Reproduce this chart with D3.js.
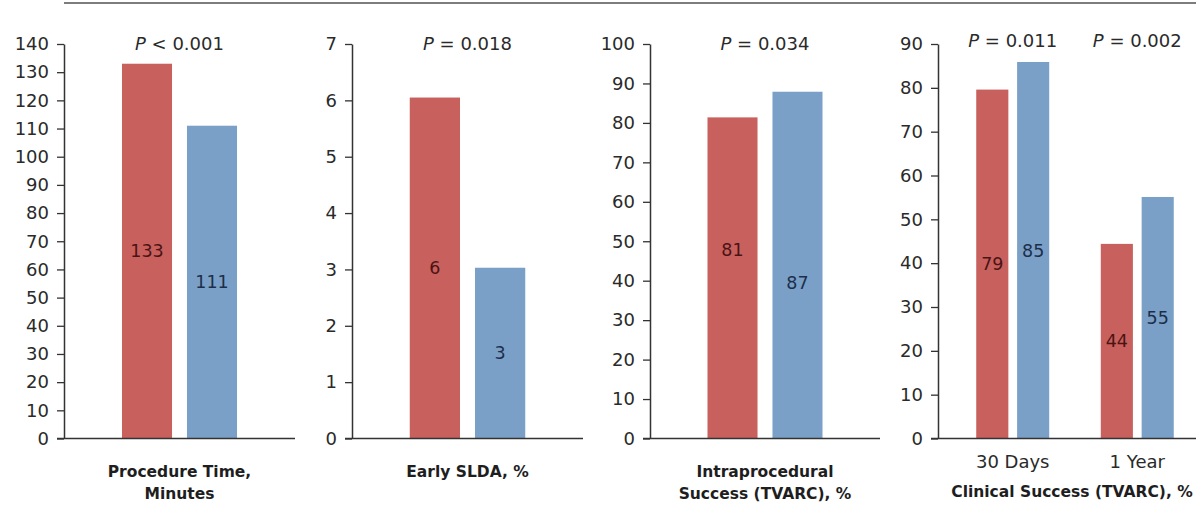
<!DOCTYPE html>
<html>
<head>
<meta charset="utf-8">
<script src="https://cdn.jsdelivr.net/npm/d3@7"></script>
<style>
  html, body { margin: 0; padding: 0; background: #fff; }
  svg { display: block; }
  text { font-family: "DejaVu Sans", sans-serif; fill: #2a2a2a; }
</style>
</head>
<body>
<svg id="chart" width="1196" height="506"></svg>
<script>
// ---------------- data ----------------
const seriesNames = ["Group A", "Group B"];

const procTimeCategories = ["Procedure"];
const procTimeValues = [[133, 111]];
const procTimeLabels = [["133", "111"]];
const procTimeP = ["< 0.001"];
const procTimeTicks = [0,10,20,30,40,50,60,70,80,90,100,110,120,130,140];
const procTimeTitle = ["Procedure Time,", "Minutes"];

const sldaCategories = ["SLDA"];
const sldaValues = [[6.05, 3.03]];
const sldaLabels = [["6", "3"]];
const sldaP = ["= 0.018"];
const sldaTicks = [0,1,2,3,4,5,6,7];
const sldaTitle = ["Early SLDA, %"];

const intraCategories = ["Intra"];
const intraValues = [[81.4, 87.9]];
const intraLabels = [["81", "87"]];
const intraP = ["= 0.034"];
const intraTicks = [0,10,20,30,40,50,60,70,80,90,100];
const intraTitle = ["Intraprocedural", "Success (TVARC), %"];

const clinicalCategories = ["30 Days", "1 Year"];
const clinicalValues = [[79.6, 85.9], [44.4, 55.1]];
const clinicalLabels = [["79", "85"], ["44", "55"]];
const clinicalP = ["= 0.011", "= 0.002"];
const clinicalTicks = [0,10,20,30,40,50,60,70,80,90];
const clinicalTitle = ["Clinical Success (TVARC), %"];

// ---------------- layout / style ----------------
const colors = ["#C8605D", "#7BA0C8"];
const labelColors = ["#4a1414", "#1c2f4a"];
const yTop = 44, yBottom = 438.5;

// labelAt: null = value label at the bar's middle; otherwise data-unit anchors
// (the third panel's labels sit lower than the bar middles).
const panels = [
  { cats: procTimeCategories, vals: procTimeValues, labels: procTimeLabels, p: procTimeP, ticks: procTimeTicks, title: procTimeTitle,
    x0: 64, x1: 295, po: 0.504, pi: 0, innerPad: 0.23, pY: 50, showCats: false, labelAt: null },
  { cats: sldaCategories, vals: sldaValues, labels: sldaLabels, p: sldaP, ticks: sldaTicks, title: sldaTitle,
    x0: 352, x1: 583, po: 0.5, pi: 0, innerPad: 0.23, pY: 50, showCats: false, labelAt: null },
  { cats: intraCategories, vals: intraValues, labels: intraLabels, p: intraP, ticks: intraTicks, title: intraTitle,
    x0: 650, x1: 880, po: 0.5, pi: 0, innerPad: 0.23, pY: 50, showCats: false, labelAt: [[47.8, 39.4]] },
  { cats: clinicalCategories, vals: clinicalValues, labels: clinicalLabels, p: clinicalP, ticks: clinicalTicks, title: clinicalTitle,
    x0: 938, x1: 1212, po: 0.307, pi: 0.414, innerPad: 0.214, pY: 47, showCats: true, labelAt: null }
];

const svg = d3.select("#chart");

// top rule
svg.append("line")
  .attr("x1", 64).attr("x2", 1196).attr("y1", 3).attr("y2", 3)
  .attr("stroke", "#7d7d7d").attr("stroke-width", 2);

panels.forEach(pn => {
  const g = svg.append("g");
  const yMax = d3.max(pn.ticks);
  const y = d3.scaleLinear().domain([0, yMax]).range([yBottom, yTop]);
  const x = d3.scaleBand().domain(pn.cats).range([pn.x0, pn.x1])
    .paddingOuter(pn.po).paddingInner(pn.pi);
  const xs = d3.scaleBand().domain(seriesNames).range([0, x.bandwidth()])
    .paddingInner(pn.innerPad).paddingOuter(0);

  pn.cats.forEach((c, ci) => {
    const grp = g.append("g").attr("transform", `translate(${x(c)},0)`);
    seriesNames.forEach((s, si) => {
      const v = pn.vals[ci][si];
      grp.append("rect")
        .attr("x", xs(s)).attr("width", xs.bandwidth())
        .attr("y", y(v)).attr("height", y(0) - y(v))
        .attr("fill", colors[si]);
      const ly = pn.labelAt ? y(pn.labelAt[ci][si]) : (y(v) + y(0)) / 2;
      grp.append("text")
        .attr("x", xs(s) + xs.bandwidth() / 2)
        .attr("y", ly)
        .attr("dy", "0.36em")
        .attr("text-anchor", "middle")
        .style("font-size", "17.5px")
        .style("fill", labelColors[si])
        .text(pn.labels[ci][si]);
    });
    const pt = g.append("text")
      .attr("x", x(c) + x.bandwidth() / 2)
      .attr("y", pn.pY)
      .attr("text-anchor", "middle")
      .style("font-size", "18px");
    pt.append("tspan").style("font-style", "italic").text("P");
    pt.append("tspan").text(" " + pn.p[ci]);

    if (pn.showCats) {
      g.append("text")
        .attr("x", x(c) + x.bandwidth() / 2)
        .attr("y", 468)
        .attr("text-anchor", "middle")
        .style("font-size", "18px")
        .text(c);
    }
  });

  // y axis
  const ax = g.append("g")
    .attr("transform", `translate(${pn.x0},0)`)
    .call(d3.axisLeft(y).tickValues(pn.ticks).tickFormat(d3.format("d"))
      .tickSize(7).tickSizeOuter(0).tickPadding(8));
  ax.select(".domain").attr("stroke", "#333").attr("stroke-width", 1.5);
  ax.selectAll(".tick line").attr("stroke", "#333").attr("stroke-width", 1.3);
  ax.selectAll(".tick text")
    .style("font-size", "18px")
    .style("font-family", "\"DejaVu Sans\", sans-serif")
    .attr("fill", "#2a2a2a");

  // baseline
  g.append("line")
    .attr("x1", pn.x0 - 7).attr("x2", pn.x1)
    .attr("y1", yBottom).attr("y2", yBottom)
    .attr("stroke", "#333").attr("stroke-width", 1.5);

  // title
  const titleCx = pn.showCats ? 1072 : x(pn.cats[0]) + x.bandwidth() / 2;
  const baseY = pn.showCats ? 497 : 477;
  pn.title.forEach((t, i) => {
    g.append("text")
      .attr("x", titleCx)
      .attr("y", baseY + i * 22)
      .attr("text-anchor", "middle")
      .style("font-size", "15.5px")
      .style("font-weight", "bold")
      .style("fill", "#1e1e1e")
      .text(t);
  });
});
</script>
</body>
</html>
